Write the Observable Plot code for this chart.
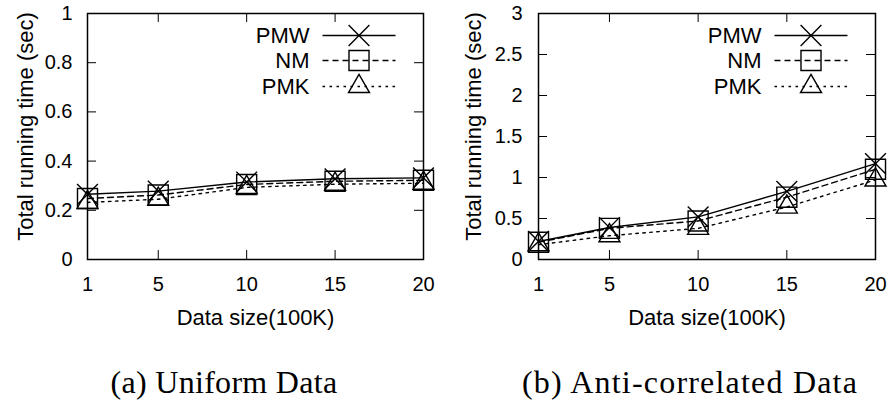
<!DOCTYPE html>
<html><head><meta charset="utf-8">
<script src="https://cdn.jsdelivr.net/npm/d3@7"></script>
<script src="https://cdn.jsdelivr.net/npm/@observablehq/plot@0.6"></script>
<style>
html,body{margin:0;padding:0;background:#fff;}
#wrap{position:relative;width:889px;height:403px;overflow:hidden;background:#fff;}
.chart{position:absolute;top:0;}
.cap{position:absolute;font-family:"Liberation Serif",serif;font-size:32px;line-height:32px;white-space:nowrap;transform:translateX(-50%);color:#000;}
</style></head><body>
<div id="wrap"></div>
<script>
// ---- data ----
const sizes = [1, 5, 10, 15, 20];
const seriesNames = ["PMW", "NM", "PMK"];
const uniformPMW = [0.265, 0.278, 0.315, 0.328, 0.332];
const uniformNM  = [0.248, 0.262, 0.305, 0.318, 0.322];
const uniformPMK = [0.232, 0.245, 0.293, 0.306, 0.310];
const antiPMW = [0.22, 0.39, 0.52, 0.83, 1.17];
const antiNM  = [0.21, 0.38, 0.47, 0.76, 1.10];
const antiPMK = [0.18, 0.29, 0.38, 0.64, 0.97];
const uniformTicks = [0, 0.2, 0.4, 0.6, 0.8, 1];
const antiTicks = [0, 0.5, 1, 1.5, 2, 2.5, 3];
const xLabel = "Data size(100K)";
const yLabel = "Total running time (sec)";
const captions = ["(a) Uniform Data", "(b) Anti-correlated Data"];

const styles = {
  PMW: {dash: null, symbol: "times", r: 9.5},
  NM:  {dash: "6,4", symbol: "square", r: 11.3},
  PMK: {dash: "2.5,4.5", symbol: "triangle", r: 7.8}
};

const lineSym = {draw(ctx) { ctx.moveTo(-36.5, 0); ctx.lineTo(36.5, 0); }};

function chart(values, yTicks, ymax, opt) {
  const W = opt.width, H = 403;
  const fw = W - opt.ml - opt.mr, fh = H - 13 - 144;
  const marks = [];
  // ticks (inward, mirrored)
  marks.push(Plot.ruleY(yTicks, {y: d => d, insetRight: fw - 9, stroke: "black", strokeWidth: 1}));
  marks.push(Plot.ruleY(yTicks, {y: d => d, insetLeft: fw - 9, stroke: "black", strokeWidth: 1}));
  marks.push(Plot.ruleX(sizes, {x: d => d, insetTop: fh - 9, stroke: "black", strokeWidth: 1}));
  marks.push(Plot.ruleX(sizes, {x: d => d, insetBottom: fh - 9, stroke: "black", strokeWidth: 1}));
  marks.push(Plot.axisY({ticks: yTicks, tickSize: 0, tickPadding: opt.ypad, tickFormat: d => String(d), label: null, fontSize: 20}));
  marks.push(Plot.axisX({ticks: sizes, tickSize: 0, tickPadding: 17, tickFormat: d => String(d), label: null, fontSize: 20}));
  seriesNames.forEach((name, i) => {
    const data = sizes.map((s, j) => ({size: s, time: values[i][j]}));
    const st = styles[name];
    marks.push(Plot.line(data, {x: "size", y: "time", stroke: "black", strokeWidth: 1.4, strokeDasharray: st.dash}));
    marks.push(Plot.dot(data, {x: "size", y: "time", symbol: st.symbol, r: st.r, stroke: "black", strokeWidth: 1.4, fill: "none"}));
    // legend
    const dy = [22, 47, 73][i];
    marks.push(Plot.text([name], {text: d => d, frameAnchor: "top-right", dx: -114, dy, textAnchor: "end", lineAnchor: "middle", fontSize: 22}));
    marks.push(Plot.dot([name], {frameAnchor: "top-right", dx: -64.5, dy, symbol: lineSym, r: 5, stroke: "black", strokeWidth: 1.4, strokeDasharray: st.dash, fill: "none"}));
    marks.push(Plot.dot([name], {frameAnchor: "top-right", dx: -64.5, dy, symbol: st.symbol, r: st.r, stroke: "black", strokeWidth: 1.4, fill: "none"}));
  });
  marks.push(Plot.frame({stroke: "black", strokeWidth: 1.5}));
  marks.push(Plot.text([yLabel], {text: d => d, frameAnchor: "left", textAnchor: "middle", lineAnchor: "middle", rotate: -90, dx: opt.ylx, dy: -10, fontSize: 22}));
  marks.push(Plot.text([xLabel], {text: d => d, frameAnchor: "bottom", textAnchor: "middle", lineAnchor: "middle", dy: 58, fontSize: 22}));
  return Plot.plot({
    width: W, height: H,
    marginLeft: opt.ml, marginRight: opt.mr, marginTop: 13, marginBottom: 144,
    x: {type: "linear", domain: [1, 20]},
    y: {type: "linear", domain: [0, ymax]},
    style: {fontFamily: "'Liberation Sans', Arial, sans-serif", fontSize: "20px", background: "white", color: "black", overflow: "visible"},
    marks
  });
}

const wrap = document.getElementById("wrap");
const c1 = chart([uniformPMW, uniformNM, uniformPMK], uniformTicks, 1, {width: 444, ml: 87, mr: 21, ypad: 15, ylx: -62});
c1.classList.add("chart"); c1.style.left = "0px";
const c2 = chart([antiPMW, antiNM, antiPMK], antiTicks, 3, {width: 445, ml: 94, mr: 14, ypad: 16, ylx: -65});
c2.classList.add("chart"); c2.style.left = "444px";
wrap.appendChild(c1); wrap.appendChild(c2);
[[224, captions[0], 0.3], [690, captions[1], 1.2]].forEach(([cx, t, ls]) => {
  const d = document.createElement("div");
  d.className = "cap"; d.textContent = t;
  d.style.left = cx + "px"; d.style.top = "366px";
  d.style.letterSpacing = ls + "px";
  wrap.appendChild(d);
});
</script>
</body></html>
